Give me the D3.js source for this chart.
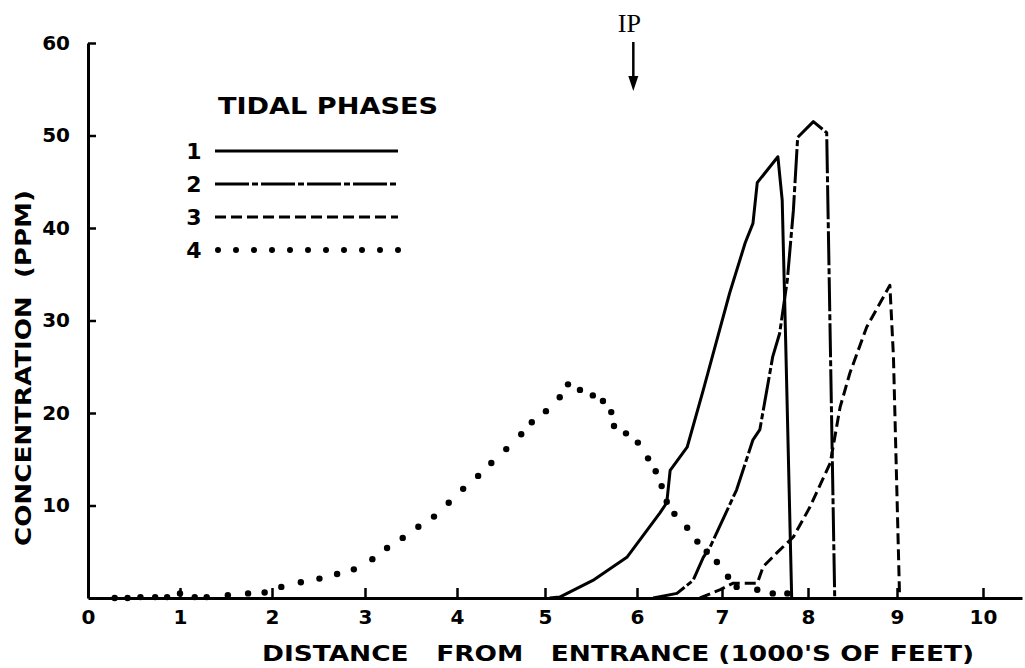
<!DOCTYPE html>
<html><head><meta charset="utf-8">
<script src="https://cdn.jsdelivr.net/npm/d3@7"></script>
<style>
html,body{margin:0;padding:0;background:#fff;}
text{font-family:"DejaVu Sans","Liberation Sans",sans-serif;font-weight:bold;fill:#000;}
</style></head><body>
<svg id="chart" width="1025" height="668"></svg>
<script>
// ---- data ----
const xTickValues = [0,1,2,3,4,5,6,7,8,9,10];
const yTickValues = [10,20,30,40,50,60];
const seriesNames = ["1","2","3","4"];
const legendTitle = "TIDAL PHASES";
const xTitle = "DISTANCE   FROM   ENTRANCE (1000'S OF FEET)";
const yTitle = "CONCENTRATION  (PPM)";
const markerLabel = "IP";
const markerX = 5.96;

const phase1X = [5.05,5.16,5.52,5.89,6.27,6.35,6.39,6.59,6.78,6.94,7.09,7.27,7.36,7.41,7.65,7.70,7.74,7.81];
const phase1Y = [0,0.1,1.9,4.4,9.2,10.3,13.8,16.3,22.5,27.9,33.0,38.4,40.5,44.9,47.7,43.0,27.9,0.1];

const phase2X = [6.19,6.47,6.66,6.78,6.86,7.17,7.36,7.44,7.59,7.67,7.76,7.83,7.88,8.06,8.21,8.25,8.30];
const phase2Y = [0,0.5,1.9,4.4,5.5,11.7,17.1,18.2,26.1,28.6,34.4,41.9,49.8,51.5,50.3,27.9,0.1];

const phase3X = [6.74,6.98,7.13,7.41,7.48,7.64,7.83,8.02,8.25,8.36,8.47,8.66,8.92,8.96,9.03];
const phase3Y = [0,0.9,1.6,1.6,3.4,4.9,6.6,9.8,14.6,20.6,24.3,29.3,33.8,26.1,0.1];

const phase4X = [0.29,0.43,0.57,0.73,0.86,1.00,1.16,1.29,1.52,1.74,1.92,2.10,2.31,2.51,2.70,2.88,3.08,3.24,3.41,3.58,3.75,3.91,4.07,4.24,4.39,4.56,4.73,4.85,5.01,5.16,5.25,5.38,5.52,5.63,5.72,5.75,5.88,6.01,6.13,6.22,6.29,6.35,6.44,6.59,6.71,6.82,6.94,7.07,7.17,7.41,7.59,7.76];
const phase4Y = [0,0,0.1,0.1,0.1,0.5,0.1,0.1,0.3,0.5,0.6,1.2,1.7,2.1,2.6,3.1,4.2,5.4,6.5,7.7,8.8,10.3,11.8,13.2,14.6,16.1,17.7,19.0,20.2,21.7,23.1,22.5,21.9,21.3,20.1,18.6,17.8,16.8,15.1,13.7,12.1,10.4,9.1,7.6,6.1,5.0,3.9,2.3,1.2,0.9,0.5,0.5];

// ---- drawing ----
const svg = d3.select("#chart");
// hand-drawn axis: tick marks are not evenly spaced, so piecewise-linear scale
const x = d3.scaleLinear()
  .domain([0,1,2,3,4,5,6,7,8,9,10,10.45])
  .range([88,180,272,365,457,545,637,722,808,897,983,1022]);
const y = d3.scaleLinear().domain([0,60]).range([598,43]);

const ink = "#000";

// x axis
const gx = svg.append("g").attr("transform","translate(0,598)")
  .call(d3.axisBottom(x).tickValues(xTickValues).tickSize(-10).tickSizeOuter(0).tickPadding(12).tickFormat(d3.format("d")));
gx.select(".domain").attr("stroke",ink).attr("stroke-width",3);
gx.selectAll(".tick line").attr("stroke",ink).attr("stroke-width",2.5);
gx.selectAll(".tick").filter(d=>d===0).select("line").remove();
gx.selectAll("text").style("font-size","20px").attr("fill",ink);

// y axis
const gy = svg.append("g").attr("transform","translate(88,0)")
  .call(d3.axisLeft(y).tickValues(yTickValues).tickSize(-8).tickSizeOuter(0).tickPadding(18).tickFormat(d3.format("d")));
gy.select(".domain").attr("stroke",ink).attr("stroke-width",3);
gy.selectAll(".tick line").attr("stroke",ink).attr("stroke-width",2.5);
gy.selectAll("text").style("font-size","20px").attr("fill",ink);

// titles
svg.append("text").attr("x",618).attr("y",661).attr("text-anchor","middle")
  .style("font-size","22px").attr("textLength",712).attr("lengthAdjust","spacingAndGlyphs")
  .style("white-space","pre").text(xTitle);
svg.append("text").attr("transform","translate(31,368) rotate(-90)").attr("text-anchor","middle")
  .style("font-size","22px").attr("textLength",356).attr("lengthAdjust","spacingAndGlyphs")
  .style("white-space","pre").text(yTitle);

// series
const line = d3.line().x(d=>x(d[0])).y(d=>y(d[1]));
const zip = (a,b)=>a.map((v,i)=>[v,b[i]]);
const styles = [
  {dash:null},
  {dash:"34,3,6,3"},
  {dash:"11,5"}
];
const lineSeries = [zip(phase1X,phase1Y), zip(phase2X,phase2Y), zip(phase3X,phase3Y)];
lineSeries.forEach((s,i)=>{
  svg.append("path").datum(s).attr("d",line).attr("fill","none")
    .attr("stroke",ink).attr("stroke-width",3).attr("stroke-linejoin","round")
    .attr("stroke-dasharray",styles[i].dash);
});
svg.append("g").selectAll("circle").data(zip(phase4X,phase4Y)).join("circle")
  .attr("cx",d=>x(d[0])).attr("cy",d=>y(d[1])).attr("r",3.2).attr("fill",ink);

// legend
const lg = svg.append("g");
lg.append("text").attr("x",218).attr("y",114).style("font-size","23px")
  .attr("textLength",220).attr("lengthAdjust","spacingAndGlyphs").text(legendTitle);
const legY = [151,184,217,250];
seriesNames.forEach((n,i)=>{
  lg.append("text").attr("x",194).attr("y",legY[i]+8).attr("text-anchor","middle")
    .style("font-size","22px").text(n);
  if(i<3){
    lg.append("line").attr("x1",215).attr("x2",398).attr("y1",legY[i]).attr("y2",legY[i])
      .attr("stroke",ink).attr("stroke-width",3).attr("stroke-dasharray",styles[i].dash);
  } else {
    lg.selectAll("circle.leg").data(d3.range(11)).join("circle").attr("class","leg")
      .attr("cx",k=>218+k*18).attr("cy",legY[i]).attr("r",3).attr("fill",ink);
  }
});

// IP marker
const mx = x(markerX);
svg.append("text").attr("x",mx-4).attr("y",32).attr("text-anchor","middle")
  .style("font-family","'Liberation Serif','DejaVu Serif',serif").style("font-weight","normal")
  .style("font-size","26px").text(markerLabel);
svg.append("line").attr("x1",mx).attr("x2",mx).attr("y1",42).attr("y2",80)
  .attr("stroke",ink).attr("stroke-width",2.5);
svg.append("path").attr("d",`M${mx-5},76 L${mx+5},76 L${mx},91 Z`).attr("fill",ink);
</script>
</body></html>
